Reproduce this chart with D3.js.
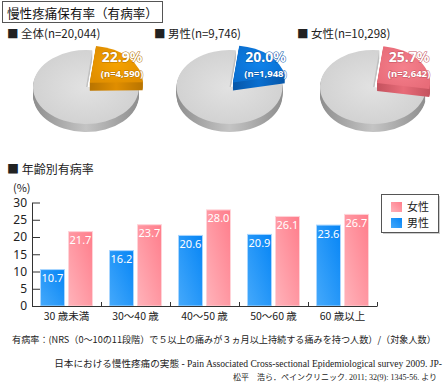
<!DOCTYPE html>
<html>
<head>
<meta charset="utf-8">
<script src="https://cdn.jsdelivr.net/npm/d3@7"></script>
<style>
  body { margin: 0; background: #fff; }
  text { font-family: "Noto Sans CJK JP", "Noto Sans", sans-serif; fill: #222; }
  .cite { font-family: "Liberation Serif", "Noto Sans CJK JP", serif; }
</style>
</head>
<body>
<div id="canvas"></div>
<script>
// data
var title = '慢性疼痛保有率（有病率）';
var pieGroups = ['全体(n=20,044)', '男性(n=9,746)', '女性(n=10,298)'];
var pieRates = [22.9, 20.0, 25.7];
var pieCounts = ['(n=4,590)', '(n=1,948)', '(n=2,642)'];

var ageGroups = ['30 歳未満', '30〜40 歳', '40〜50 歳', '50〜60 歳', '60 歳以上'];
var male = [10.7, 16.2, 20.6, 20.9, 23.6];
var female = [21.7, 23.7, 28.0, 26.1, 26.7];
var yTicks = [0, 5, 10, 15, 20, 25, 30];

var note = '有病率：(NRS（0〜10の11段階）で５以上の痛みが３ヵ月以上持続する痛みを持つ人数）/（対象人数）';
var cite1 = '日本における慢性疼痛の実態 - Pain Associated Cross-sectional Epidemiological survey 2009. JP-';
var cite2 = '松平　浩ら．ペインクリニック. 2011; 32(9): 1345-56. より';

var W = 444, H = 383;
var svg = d3.select('#canvas').append('svg')
    .attr('width', W).attr('height', H);
var defs = svg.append('defs');

// shrink a text so that it spans the given width
function fit(sel, width){
    var fs = parseFloat(sel.style('font-size'));
    var len = sel.node().getComputedTextLength();
    sel.style('font-size', (fs * width / len).toFixed(2) + 'px');
    return sel;
}

// title box
svg.append('rect').attr('x', 2.5).attr('y', 1.5).attr('width', 160).attr('height', 21)
    .style('fill', '#fff').style('stroke', '#555');
fit(svg.append('text').attr('x', 7).attr('y', 17.5).text(title)
    .style('font-size', '13px').style('fill', '#111'), 151);

// ---- pies ----
var pieColors = [
    {top: '#f5a200', edge: '#e08e00', wall: '#b87400'},
    {top: '#0f82ea', edge: '#0a6fd0', wall: '#0656a8'},
    {top: '#f5808c', edge: '#e86c79', wall: '#c4525e'}
];
var pieCx = [86, 229.5, 373], pieCy = 87, rx = 53, ry = 37, depth = 8;
var k = ry / rx, a0 = 0.12, explode = 5;
var arc = d3.arc().innerRadius(0).outerRadius(rx);

function radial(id, c0, c1){
    var g = defs.append('radialGradient').attr('id', id)
        .attr('cx', 0.5).attr('cy', 0.5).attr('r', 0.6);
    g.append('stop').attr('offset', '0%').attr('stop-color', c0);
    g.append('stop').attr('offset', '100%').attr('stop-color', c1);
}
function wallGrad(id, c0, c1){
    var g = defs.append('linearGradient').attr('id', id)
        .attr('x1', 0).attr('x2', 1).attr('y1', 0).attr('y2', 0);
    g.append('stop').attr('offset', '0%').attr('stop-color', c0);
    g.append('stop').attr('offset', '50%').attr('stop-color', c1);
    g.append('stop').attr('offset', '100%').attr('stop-color', c0);
}
radial('grayTop', '#e2e2e2', '#cfcfcf');
wallGrad('grayWall', '#8e8e8e', '#c4c4c4');
pieColors.forEach(function(c, i){
    radial('sliceTop' + i, c.top, c.edge);
    wallGrad('sliceWall' + i, c.wall, c.edge);
});

function drawSlice(g, start, end, dx, dy, topFill, wallFill){
    var d = arc({startAngle: start, endAngle: end});
    for (var z = depth; z >= 1; z--) {
        g.append('path').attr('d', d)
            .attr('transform', 'translate(' + dx + ',' + (dy + z) + ') scale(1,' + k + ')')
            .style('fill', wallFill);
    }
    g.append('path').attr('d', d)
        .attr('transform', 'translate(' + dx + ',' + dy + ') scale(1,' + k + ')')
        .style('fill', topFill);
}

pieRates.forEach(function(p, i){
    var g = svg.append('g').attr('transform', 'translate(' + pieCx[i] + ',' + pieCy + ')');
    var span = 2 * Math.PI * p / 100;
    drawSlice(g, a0 + span, a0 + 2 * Math.PI, 0, 0, 'url(#grayTop)', 'url(#grayWall)');
    var mid = a0 + span / 2;
    var dx = Math.sin(mid) * explode, dy = -Math.cos(mid) * explode * k - 2;
    drawSlice(g, a0, a0 + span, dx, dy, 'url(#sliceTop' + i + ')', 'url(#sliceWall' + i + ')');

    g.append('text').attr('x', 36).attr('y', -25).attr('text-anchor', 'middle')
        .text(p.toFixed(1) + '%')
        .style('font-family', '"Noto Sans", sans-serif')
        .style('font-size', '14px').style('font-weight', 'bold').style('fill', '#fff')
        .style('paint-order', 'stroke').style('stroke', pieColors[i].wall).style('stroke-width', 1);
    g.append('text').attr('x', 36).attr('y', -10).attr('text-anchor', 'middle')
        .text(pieCounts[i])
        .style('font-family', '"Noto Sans", sans-serif')
        .style('font-size', '9.5px').style('font-weight', 'bold').style('fill', '#fff')
        .style('paint-order', 'stroke').style('stroke', pieColors[i].wall).style('stroke-width', 0.8);

    svg.append('text').attr('x', [7, 154, 297][i]).attr('y', 38)
        .text('■ ' + pieGroups[i]).style('font-size', '11.5px');
});

// ---- bars ----
svg.append('text').attr('x', 7).attr('y', 174).text('■ 年齢別有病率').style('font-size', '12px');
svg.append('text').attr('x', 13).attr('y', 192).text('(%)').style('font-size', '11px');

var x = d3.scaleBand().domain(ageGroups).range([32, 377]);
var xs = d3.scaleBand().domain(['男性', '女性']).range([0, x.bandwidth()])
    .paddingInner(0.107).paddingOuter(0.286);
var y = d3.scaleLinear().domain([0, 30]).range([306, 202.5]);

function barGrad(id, c0, c1){
    var g = defs.append('linearGradient').attr('id', id)
        .attr('x1', 1).attr('y1', 0).attr('x2', 0).attr('y2', 1);
    g.append('stop').attr('offset', '0%').attr('stop-color', c0);
    g.append('stop').attr('offset', '100%').attr('stop-color', c1);
}
barGrad('blueBar', '#0685f5', '#45a9fb');
barGrad('pinkBar', '#ff7d8b', '#ffb3ba');

var series = [
    {key: '男性', values: male, fill: 'url(#blueBar)', stroke: '#a9d6ff'},
    {key: '女性', values: female, fill: 'url(#pinkBar)', stroke: '#ffd3d8'}
];

series.forEach(function(s){
    var bars = svg.append('g').selectAll('g')
        .data(s.values).enter().append('g');
    bars.append('rect')
        .attr('x', function(d, i){ return x(ageGroups[i]) + xs(s.key) + 0.5; })
        .attr('y', function(d){ return y(d) + 0.5; })
        .attr('width', xs.bandwidth() - 1)
        .attr('height', function(d){ return y(0) - y(d) - 0.5; })
        .style('fill', s.fill).style('stroke', s.stroke);
    bars.append('text')
        .attr('x', function(d, i){ return x(ageGroups[i]) + xs(s.key) + xs.bandwidth() / 2; })
        .attr('y', function(d){ return y(d) + 13; })
        .attr('text-anchor', 'middle')
        .text(function(d){ return d.toFixed(1); })
        .style('font-family', '"Noto Sans", sans-serif')
        .style('font-size', '11px').style('fill', '#fff');
});

// axes
var yAxis = svg.append('g').attr('transform', 'translate(32,0)')
    .call(d3.axisLeft(y).tickValues(yTicks).tickSizeInner(-8).tickSizeOuter(0).tickPadding(5));
yAxis.selectAll('text').style('font-family', '"Noto Sans", sans-serif').style('font-size', '12px').style('fill', '#222');
yAxis.selectAll('line').style('stroke', '#333');
yAxis.select('.domain').style('stroke', '#333');

var bounds = d3.scaleLinear().domain([0, 5]).range([32, 377]);
var xTicks = svg.append('g').attr('transform', 'translate(0,306)')
    .call(d3.axisTop(bounds).ticks(5).tickSizeInner(4).tickSizeOuter(0).tickFormat(''));
xTicks.selectAll('line').style('stroke', '#333');
xTicks.select('.domain').style('stroke', '#333');

var xAxis = svg.append('g').attr('transform', 'translate(0,306)')
    .call(d3.axisBottom(x).tickSize(0).tickPadding(7));
xAxis.select('.domain').remove();
xAxis.selectAll('text').style('font-size', '10.5px').style('fill', '#222');

// legend
var lg = svg.append('g').attr('transform', 'translate(381,194)');
lg.append('rect').attr('x', 2).attr('y', 2).attr('width', 57).attr('height', 38).style('fill', '#ccc');
lg.append('rect').attr('x', 0.5).attr('y', 0.5).attr('width', 57).attr('height', 38)
    .style('fill', '#fff').style('stroke', '#555');
var legendItems = [series[1], series[0]];
legendItems.forEach(function(s, i){
    lg.append('rect').attr('x', 10).attr('y', 8 + i * 16).attr('width', 11).attr('height', 10)
        .style('fill', s.fill);
    lg.append('text').attr('x', 26).attr('y', 17 + i * 16).text(s.key).style('font-size', '11px');
});

// notes
fit(svg.append('text').attr('x', 12).attr('y', 343).text(note).style('font-size', '10px'), 424);
fit(svg.append('text').attr('class', 'cite').attr('x', 442).attr('y', 367).attr('text-anchor', 'end')
    .text(cite1).style('font-size', '9.5px'), 388);
fit(svg.append('text').attr('class', 'cite').attr('x', 437).attr('y', 380).attr('text-anchor', 'end')
    .text(cite2).style('font-size', '9.5px'), 204);
</script>
</body>
</html>
